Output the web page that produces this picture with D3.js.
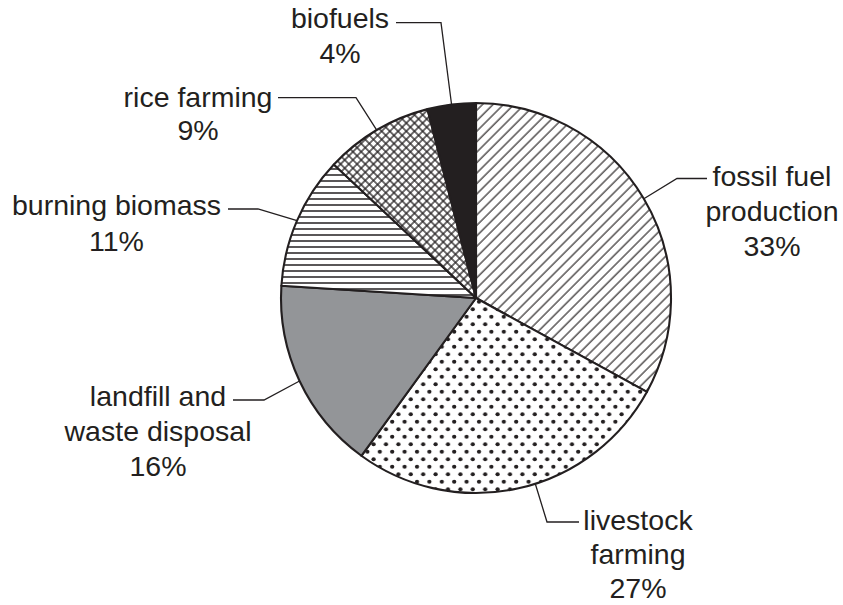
<!DOCTYPE html>
<html>
<head>
<meta charset="utf-8">
<script src="https://cdn.jsdelivr.net/npm/d3@7"></script>
<style>
  body { margin: 0; background: #fff; }
  text { font-family: "Liberation Sans", Arial, Helvetica, sans-serif; fill: #231f20; }
</style>
</head>
<body>
<script>
// data
var categories = ["fossil fuel production", "livestock farming", "landfill and waste disposal",
                  "burning biomass", "rice farming", "biofuels"];
var percents = [33, 27, 16, 11, 9, 4];
var labelLines = [["fossil fuel", "production"], ["livestock", "farming"], ["landfill and", "waste disposal"],
                  ["burning biomass"], ["rice farming"], ["biofuels"]];
var fills = ["url(#diag)", "url(#dots)", "#939598", "url(#hlines)", "url(#cross)", "#231f20"];

var width = 843, height = 605;
var cx = 476, cy = 298, radius = 195;
var ink = "#231f20";

// where each label sits: text centre/baseline, leader y, leader start (near text) and elbow x
// angle = null -> slice middle
var labelPos = [
    {tx: 772, ty: 186, lh: 35, ly: 178.5, x0: 707, x1: 677, angle: null},
    {tx: 638, ty: 530, lh: 34, ly: 522,   x0: 579, x1: 547, angle: 162.3},
    {tx: 158, ty: 406, lh: 35, ly: 400,   x0: 233, x1: 264, angle: null},
    {tx: 116.5, ty: 215, lh: 36, ly: 209, x0: 228, x1: 258, angle: null},
    {tx: 198, ty: 106.7, lh: 33, ly: 97.7, x0: 278, x1: 356, angle: 329.4},
    {tx: 340, ty: 28.3, lh: 35, ly: 22.7, x0: 396, x1: 441, angle: null}
];

var svg = d3.select("body").append("svg")
    .attr("width", width)
    .attr("height", height);

var defs = svg.append("defs");

// diagonal "/" hatching
var pDiag = defs.append("pattern")
    .attr("id", "diag")
    .attr("patternUnits", "userSpaceOnUse")
    .attr("width", 7.4).attr("height", 7.4)
    .attr("patternTransform", "rotate(45)");
pDiag.append("rect").attr("width", 7.4).attr("height", 7.4).attr("fill", "#fff");
pDiag.append("line").attr("x1", 1).attr("y1", 0).attr("x2", 1).attr("y2", 7.4)
    .attr("stroke", ink).attr("stroke-width", 1.15);

// dots
var pDots = defs.append("pattern")
    .attr("id", "dots")
    .attr("patternUnits", "userSpaceOnUse")
    .attr("width", 12.4).attr("height", 15);
pDots.append("rect").attr("width", 12.4).attr("height", 15).attr("fill", "#fff");
pDots.append("circle").attr("cx", 3).attr("cy", 3.75).attr("r", 2.1).attr("fill", ink);
pDots.append("circle").attr("cx", 9.2).attr("cy", 11.25).attr("r", 2.1).attr("fill", ink);

// horizontal lines
var pH = defs.append("pattern")
    .attr("id", "hlines")
    .attr("patternUnits", "userSpaceOnUse")
    .attr("width", 8).attr("height", 6);
pH.append("rect").attr("width", 8).attr("height", 6).attr("fill", "#fff");
pH.append("line").attr("x1", 0).attr("y1", 3).attr("x2", 8).attr("y2", 3)
    .attr("stroke", ink).attr("stroke-width", 1.5);

// cross hatch
var pX = defs.append("pattern")
    .attr("id", "cross")
    .attr("patternUnits", "userSpaceOnUse")
    .attr("width", 5.8).attr("height", 5.8)
    .attr("patternTransform", "rotate(45)");
pX.append("rect").attr("width", 5.8).attr("height", 5.8).attr("fill", "#fff");
pX.append("line").attr("x1", 1).attr("y1", 0).attr("x2", 1).attr("y2", 5.8)
    .attr("stroke", ink).attr("stroke-width", 1.3);
pX.append("line").attr("x1", 0).attr("y1", 1).attr("x2", 5.8).attr("y2", 1)
    .attr("stroke", ink).attr("stroke-width", 1.3);

var pie = d3.pie().sort(null).value(function(d){ return d; });
var arcs = pie(percents);

var arc = d3.arc().innerRadius(0).outerRadius(radius);

var g = svg.append("g").attr("transform", "translate(" + cx + "," + cy + ")");

g.selectAll("path.slice")
    .data(arcs)
    .enter().append("path")
    .attr("class", "slice")
    .attr("d", arc)
    .attr("fill", function(d, i){ return fills[i]; })
    .attr("stroke", ink)
    .attr("stroke-width", 2.1)
    .attr("stroke-linejoin", "round");

// leaders + labels
arcs.forEach(function(d, i){
    var p = labelPos[i];
    var a = p.angle != null ? p.angle * Math.PI / 180 : (d.startAngle + d.endAngle) / 2;
    var ex = cx + radius * Math.sin(a);
    var ey = cy - radius * Math.cos(a);

    svg.append("polyline")
        .attr("points", [[p.x0, p.ly], [p.x1, p.ly], [ex, ey]].map(function(q){ return q.join(","); }).join(" "))
        .attr("fill", "none")
        .attr("stroke", ink)
        .attr("stroke-width", 1.3);

    var t = svg.append("text")
        .attr("x", p.tx)
        .attr("y", p.ty)
        .attr("text-anchor", "middle")
        .attr("font-size", 28.5);
    var lines = labelLines[i].concat([percents[i] + "%"]);
    lines.forEach(function(s, k){
        t.append("tspan")
            .attr("x", p.tx)
            .attr("dy", k == 0 ? 0 : p.lh)
            .text(s);
    });
});
</script>
</body>
</html>
